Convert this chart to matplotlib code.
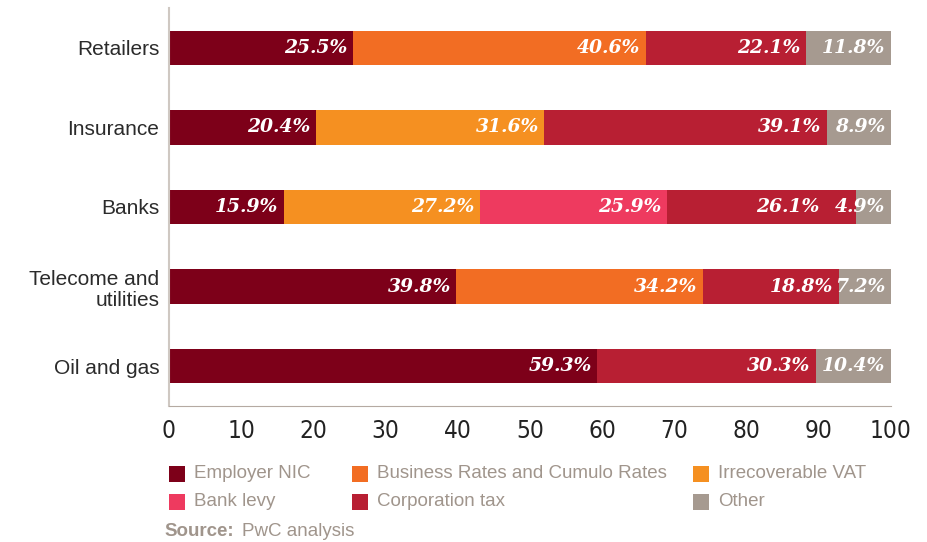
import numpy as np
import matplotlib
matplotlib.use("Agg")
import matplotlib.pyplot as plt
from matplotlib.patches import Rectangle

sectors = ["Retailers", "Insurance", "Banks", "Telecome and\nutilities", "Oil and gas"]
taxes = ["Employer NIC", "Business Rates and Cumulo Rates", "Irrecoverable VAT",
         "Bank levy", "Corporation tax", "Other"]
employer_nic = [25.5, 20.4, 15.9, 39.8, 59.3]
business_rates = [40.6, 0, 0, 34.2, 0]
irrecoverable_vat = [0, 31.6, 27.2, 0, 0]
bank_levy = [0, 0, 25.9, 0, 0]
corporation_tax = [22.1, 39.1, 26.1, 18.8, 30.3]
other = [11.8, 8.9, 4.9, 7.2, 10.4]
xticks = [0, 10, 20, 30, 40, 50, 60, 70, 80, 90, 100]

colors = ["#7d0019", "#f26d23", "#f59021", "#ee3a5f", "#b81f33", "#a69a90"]
grey = "#a0958c"

series = [employer_nic, business_rates, irrecoverable_vat, bank_levy, corporation_tax, other]
data = np.array(series, dtype=float)

W, H = 928, 542
fig = plt.figure(figsize=(W/100, H/100), dpi=100)
ax = fig.add_axes([169/W, 1-406/H, (891-169)/W, (406-8)/H])

y = np.arange(len(sectors))
left = np.zeros(len(sectors))
for k, (vals, c) in enumerate(zip(data, colors)):
    ax.barh(y, vals, left=left, height=0.43, color=c, edgecolor="none")
    for yi, (l, v) in enumerate(zip(left, vals)):
        if v > 0:
            # push label left when the next segment is too thin for its own label
            nxt = [w for w in data[k+1:, yi] if w > 0]
            off = -26 if (nxt and nxt[0] < 6) else -4
            ax.annotate(f"{v:.1f}%", (l + v, yi), xytext=(off, 0), textcoords="offset points",
                        ha="right", va="center", color="white", fontsize=13.5,
                        family="DejaVu Serif", fontweight="bold", fontstyle="italic")
    left += vals

ax.set_xlim(0, 100)
ax.set_ylim(4.5, -0.5)
ax.set_yticks(y)
ax.set_yticklabels(sectors, fontsize=15, color="#2b2b2b", family="Liberation Sans",
                   multialignment="right", linespacing=1.15)
ax.set_xticks(xticks)
ax.set_xticklabels([str(t) for t in xticks], fontsize=17.5, color="#222222",
                   family="DejaVu Sans", fontstretch="condensed")
ax.tick_params(axis="both", length=0)
ax.tick_params(axis="y", pad=7)
ax.tick_params(axis="x", pad=9)
for s in ["top", "right"]:
    ax.spines[s].set_visible(False)
ax.spines["left"].set_color("#cfc8c2")
ax.spines["bottom"].set_color("#b5aaa2")
ax.spines["left"].set_linewidth(1.5)

# legend drawn as a fixed 3x2 grid
col_x = [169, 352, 693]
row_y = [474, 502]
for i, (name, c) in enumerate(zip(taxes, colors)):
    cx = col_x[i % 3]
    ry = row_y[i // 3]
    fig.add_artist(Rectangle((cx/W, 1-(ry+8)/H), 16/W, 16/H, facecolor=c,
                             edgecolor="none", transform=fig.transFigure))
    fig.text((cx+25)/W, 1-ry/H, name, fontsize=13.5, color=grey,
             family="Liberation Sans", va="center")

fig.text(164/W, 1-531/H, "Source:", fontsize=13.5, color=grey, fontweight="bold",
         family="Liberation Sans", va="center")
fig.text(242/W, 1-531/H, "PwC analysis", fontsize=13.5, color=grey,
         family="Liberation Sans", va="center")

fig.savefig("out.png", dpi=100)
